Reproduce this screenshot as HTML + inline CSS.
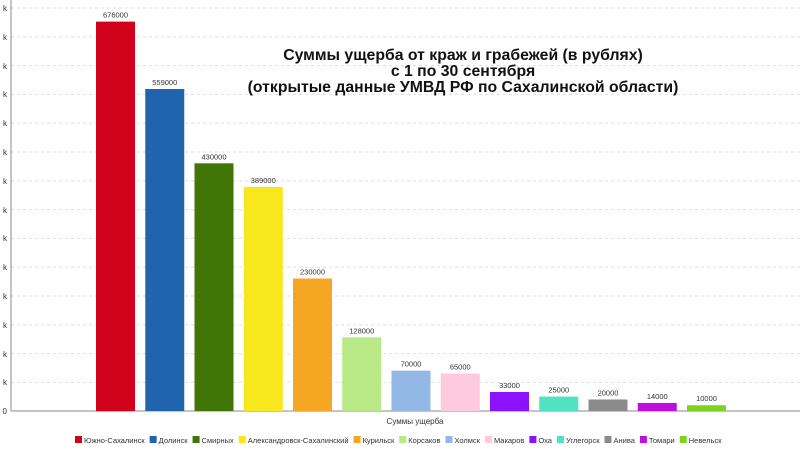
<!DOCTYPE html><html><head><meta charset="utf-8"><style>body{margin:0;background:#fff;font-family:"Liberation Sans",sans-serif}</style></head><body>
<svg width="800" height="450" xmlns="http://www.w3.org/2000/svg" font-family="Liberation Sans, sans-serif">
<g stroke="#ddd" stroke-dasharray="3,3">
<line x1="11" x2="800" y1="8" y2="8"/><line x1="11" x2="800" y1="36.8" y2="36.8"/><line x1="11" x2="800" y1="65.6" y2="65.6"/><line x1="11" x2="800" y1="94.4" y2="94.4"/><line x1="11" x2="800" y1="123.2" y2="123.2"/><line x1="11" x2="800" y1="152" y2="152"/><line x1="11" x2="800" y1="180.8" y2="180.8"/><line x1="11" x2="800" y1="209.6" y2="209.6"/><line x1="11" x2="800" y1="238.4" y2="238.4"/><line x1="11" x2="800" y1="267.2" y2="267.2"/><line x1="11" x2="800" y1="296" y2="296"/><line x1="11" x2="800" y1="324.8" y2="324.8"/><line x1="11" x2="800" y1="353.6" y2="353.6"/><line x1="11" x2="800" y1="382.4" y2="382.4"/>
</g>
<g font-size="8" fill="#333" text-anchor="end">
<text x="7" y="11">k</text><text x="7" y="40">k</text><text x="7" y="69">k</text><text x="7" y="97">k</text><text x="7" y="126">k</text><text x="7" y="155">k</text><text x="7" y="184">k</text><text x="7" y="213">k</text><text x="7" y="241">k</text><text x="7" y="270">k</text><text x="7" y="299">k</text><text x="7" y="328">k</text><text x="7" y="357">k</text><text x="7" y="385">k</text><text x="7" y="414">0</text>
</g>
<line x1="11" x2="11" y1="0" y2="411" stroke="#888"/>
<line x1="11" x2="800" y1="411" y2="411" stroke="#888"/>
<g id="bars"></g>
<text x="415" y="424" font-size="8" fill="#333" text-anchor="middle">Суммы ущерба</text>
<g font-size="15.8" font-weight="bold" fill="#111" text-anchor="middle">
<text x="463" y="60">Суммы ущерба от краж и грабежей (в рублях)</text>
<text x="463" y="76">с 1 по 30 сентября</text>
<text x="463" y="92">(открытые данные УМВД РФ по Сахалинской области)</text>
</g>
<g id="leg" font-size="7.5" fill="#333"></g>
</svg>
<script>
var d=[["Южно-Сахалинск",676000,"#d0021b"],["Долинск",559000,"#1f64ad"],["Смирных",430000,"#417505"],["Александровск-Сахалинский",389000,"#f8e71c"],["Курильск",230000,"#f5a623"],["Корсаков",128000,"#b8e986"],["Холмск",70000,"#94b8e6"],["Макаров",65000,"#ffc9de"],["Оха",33000,"#8b12fe"],["Углегорск",25000,"#50e3c2"],["Анива",20000,"#8b8b8b"],["Томари",14000,"#bd10e0"],["Невельск",10000,"#7ed321"]];
var ns="http://www.w3.org/2000/svg",b=document.getElementById("bars"),l=document.getElementById("leg");
function el(t,a,p,txt){var e=document.createElementNS(ns,t);for(var k in a)e.setAttribute(k,a[k]);if(txt)e.textContent=txt;p.appendChild(e);return e}
var x0=75;
d.forEach(function(r,i){var h=r[1]/50000*28.8,x=96+i*49.25;
el("rect",{x:x,y:411-h,width:39,height:h,fill:r[2]},b);
el("text",{x:x+19.5,y:411-h-4,"font-size":"7.5","text-anchor":"middle",fill:"#333"},b,r[1]);
el("rect",{x:x0,y:436,width:7,height:7,fill:r[2]},l);
var t=el("text",{x:x0+9,y:443},l,r[0]);x0+=9+t.getComputedTextLength()+5;});
</script>
</body></html>
